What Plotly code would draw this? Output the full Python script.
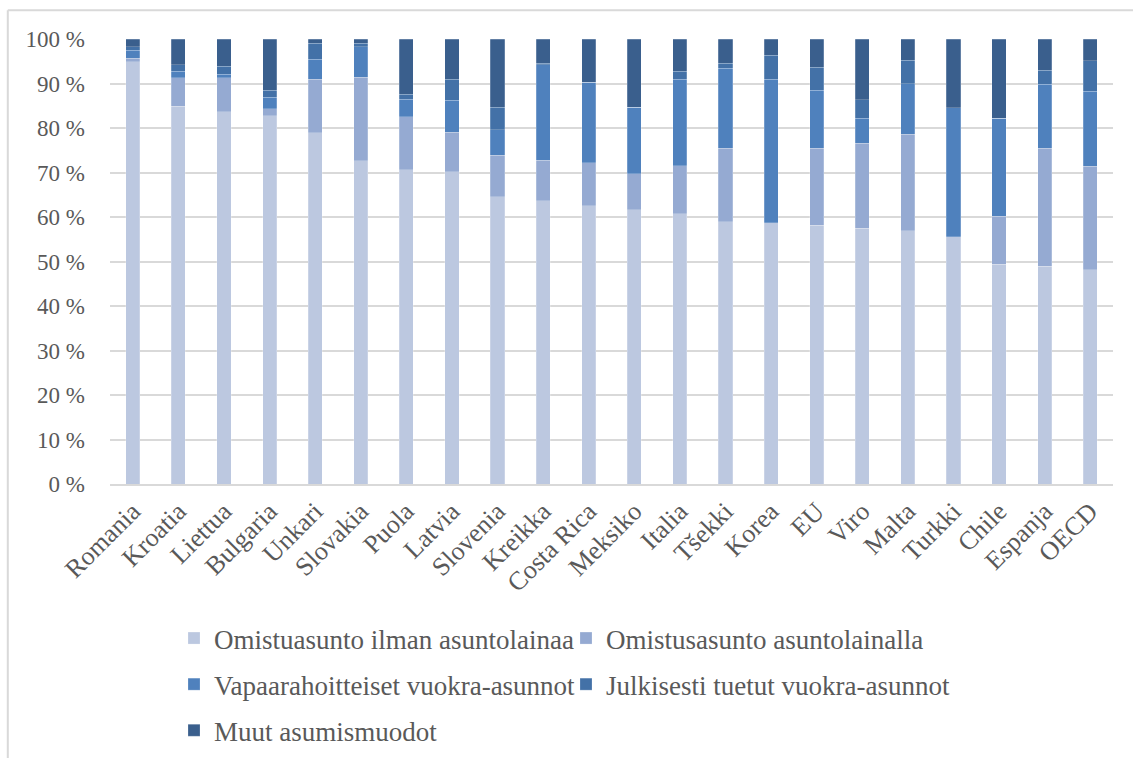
import plotly.graph_objects as go

# Housing tenure shares by country (%), stacked to 100 %
countries = ["Romania", "Kroatia", "Liettua", "Bulgaria", "Unkari", "Slovakia", "Puola",
             "Latvia", "Slovenia", "Kreikka", "Costa Rica", "Meksiko", "Italia", "Tšekki",
             "Korea", "EU", "Viro", "Malta", "Turkki", "Chile", "Espanja", "OECD"]

own_outright = [94.9, 84.9, 83.7, 82.7, 78.9, 72.6, 70.6, 70.2, 64.5, 63.6, 62.5,
                61.6, 60.7, 58.9, 58.7, 58.2, 57.5, 56.9, 55.6, 49.4, 48.9, 48.1]
own_mortgage = [0.8, 6.4, 7.6, 1.6, 12.0, 18.8, 11.9, 8.8, 9.4, 9.2, 9.7,
                8.1, 10.8, 16.6, 0.0, 17.3, 19.1, 21.7, 0.0, 10.8, 26.6, 23.3]
rent_private = [1.8, 1.4, 0.8, 2.6, 4.5, 6.9, 4.0, 7.2, 5.7, 21.4, 18.1,
                15.0, 19.4, 17.9, 32.3, 13.0, 5.6, 11.3, 29.0, 22.0, 14.3, 16.9]
rent_subsidised = [0.8, 1.5, 1.8, 1.6, 3.7, 0.8, 1.1, 4.8, 5.1, 0.4, 0.0,
                   0.0, 1.8, 1.1, 5.3, 5.1, 4.2, 5.3, 0.0, 0.0, 3.2, 6.8]
other_tenure = [1.7, 5.8, 6.1, 11.5, 0.9, 0.9, 12.4, 9.0, 15.3, 5.4, 9.7,
                15.3, 7.3, 5.5, 3.7, 6.4, 13.6, 4.8, 15.4, 17.8, 7.0, 4.9]

series_names = ["Omistuasunto ilman asuntolainaa", "Omistusasunto asuntolainalla",
                "Vapaarahoitteiset vuokra-asunnot", "Julkisesti tuetut vuokra-asunnot",
                "Muut asumismuodot"]
series_values = [own_outright, own_mortgage, rent_private, rent_subsidised, other_tenure]
series_colors = ["#BCC8E0", "#95AAD2", "#4F81BD", "#4371A7", "#3A5F8D"]
series_legend = ["legend", "legend2", "legend", "legend2", "legend"]

FONT = "Liberation Serif"
TEXT = "#595959"
GRID = "#D9D9D9"

fig = go.Figure()
for i, (name, vals, col, lg) in enumerate(zip(series_names, series_values,
                                             series_colors, series_legend)):
    fig.add_trace(go.Bar(
        x=countries, y=vals, name=name,
        marker=dict(color=col, line=dict(color="rgba(255,255,255,0.35)", width=0.6)),
        legend=lg, legendgroup=f"g{i}",
    ))

W, H = 1133, 758
L, R, T, B = 110, 20, 39, 274
pw, ph = W - L - R, H - T - B


def px_x(x):
    return (x - L) / pw


def px_y(y):
    return (H - B - y) / ph


legend_common = dict(
    orientation="v", yanchor="top", xanchor="left",
    font=dict(family=FONT, size=27, color=TEXT),
    bgcolor="rgba(0,0,0,0)", tracegroupgap=8, itemwidth=30,
)

fig.update_layout(
    width=W, height=H,
    margin=dict(l=L, r=R, t=T, b=B, autoexpand=False),
    paper_bgcolor="white", plot_bgcolor="white",
    barmode="stack", bargap=0.69,
    font=dict(family=FONT, color=TEXT),
    legend=dict(x=px_x(174), y=px_y(614), **legend_common),
    legend2=dict(x=px_x(566), y=px_y(614), **legend_common),
    xaxis=dict(
        tickangle=-45, tickfont=dict(family=FONT, size=26, color=TEXT),
        showgrid=False, showline=True, linecolor=GRID, linewidth=1.5,
        ticks="", fixedrange=True, automargin=False,
    ),
    yaxis=dict(
        range=[0, 100], dtick=10, ticksuffix=" %",
        tickfont=dict(family=FONT, size=23, color=TEXT),
        showgrid=True, gridcolor=GRID, gridwidth=1.5,
        zeroline=False, showline=False, ticks="",
        ticklabelstandoff=24, fixedrange=True, automargin=False,
    ),
)

# Light frame around the chart area (left and top edges)
fx, fy = px_x(7.8), px_y(10.3)
fig.add_shape(type="line", xref="paper", yref="paper",
              x0=fx, x1=fx, y0=px_y(H + 5), y1=fy,
              line=dict(color=GRID, width=2))
fig.add_shape(type="line", xref="paper", yref="paper",
              x0=fx, x1=px_x(W + 5), y0=fy, y1=fy,
              line=dict(color=GRID, width=2))

fig.write_html("out.html")
